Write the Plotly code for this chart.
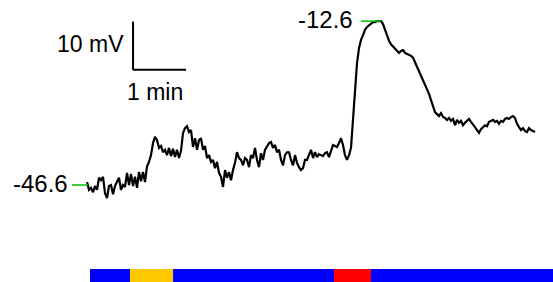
import numpy as np
import plotly.graph_objects as go

# Membrane potential trace (mV), sampled every dt_s seconds
dt_s = 2.264
vm_mV = [
    -46.0, -47.6, -47.2, -48.1, -46.8, -47.6, -45.1, -45.6, -44.9, -48.3,
    -49.3, -46.8, -46.6, -48.5, -46.8, -46.0, -45.1, -47.6, -46.6, -47.0,
    -44.1, -46.6, -44.3, -46.8, -44.9, -47.2, -43.9, -45.8, -43.9, -46.0,
    -42.7, -41.8, -40.4, -37.9, -36.6, -37.3, -38.9, -38.5, -39.8, -39.3,
    -40.4, -38.9, -40.6, -39.1, -40.8, -39.3, -41.0, -39.5, -35.8, -34.8,
    -34.4, -35.6, -35.2, -38.7, -36.9, -39.3, -37.3, -36.9, -39.3, -38.5,
    -41.0, -40.4, -41.8, -41.4, -43.1, -41.8, -44.1, -44.9, -47.0, -43.5,
    -45.1, -43.9, -45.6, -43.5, -42.0, -39.8, -41.0, -41.4, -42.5, -41.0,
    -41.4, -42.9, -40.4, -41.0, -38.9, -41.4, -42.9, -40.0, -41.4, -39.3,
    -38.7, -37.9, -37.7, -38.9, -38.3, -39.8, -39.3, -41.4, -42.5, -40.4,
    -39.8, -39.8, -41.4, -42.5, -40.4, -42.0, -42.9, -43.5, -43.1, -41.4,
    -41.4, -40.4, -39.3, -41.0, -39.8, -40.8, -40.2, -40.4, -40.6, -40.0,
    -39.8, -40.8, -39.3, -38.3, -38.5, -38.7, -37.9, -36.9, -38.3, -40.4,
    -41.4, -40.4, -38.9, -33.1, -25.9, -21.3, -18.2, -16.5, -15.5, -14.4,
    -13.8, -13.4, -13.0, -12.8, -12.8, -12.6, -12.6, -12.6, -13.2, -14.4,
    -15.5, -16.7, -17.4, -17.8, -18.2, -18.8, -19.2, -18.8, -18.6, -19.2,
    -19.4, -19.6, -19.8, -20.2, -21.1, -22.1, -22.9, -23.8, -24.8, -25.6,
    -26.7, -27.7, -29.0, -30.2, -31.5, -31.9, -32.3, -31.7, -32.5, -32.7,
    -33.1, -32.7, -33.3, -32.9, -34.2, -33.1, -33.7, -33.3, -34.2, -33.7,
    -33.3, -32.9, -33.5, -34.2, -34.6, -35.2, -35.8, -35.0, -34.6, -34.2,
    -34.4, -33.5, -33.3, -33.1, -33.5, -33.3, -33.9, -33.3, -33.5, -32.9,
    -32.7, -32.9, -32.5, -32.3, -32.7, -33.9, -34.6, -35.2, -34.8, -35.4,
    -35.6, -34.8, -35.2, -35.4, -35.6,
]
t_s = np.arange(len(vm_mV)) * dt_s

# Marked levels
level_labels = ["-46.6", "-12.6"]
level_values = [-46.6, -12.6]
level_tick_t = [(-17.0, 1.1), (310.0, 332.8)]
level_label_t = [-19.2, 303.4]

# Scale bar
scale_origin_t = 52.1
scale_origin_v = -22.7
scale_v_mV = 10
scale_t_s = 60
scale_labels = ["10 mV", "1 min"]

# Condition bar at bottom
bar_edges_s = [3.4, 48.7, 97.4, 279.6, 321.5, 560.0]
bar_colors = ["#0000ff", "#ffc800", "#0000ff", "#ff0000", "#0000ff"]
bar_v_top, bar_v_bottom = -64.0, -70.0

fig = go.Figure()
fig.add_trace(go.Scatter(x=t_s, y=vm_mV, mode="lines",
                         line=dict(color="black", width=2.2),
                         hoverinfo="skip", showlegend=False))

shapes = []
annotations = []
font_lvl = dict(family="Liberation Sans, Arial, sans-serif", size=24, color="black")
font_sc = dict(family="Liberation Sans, Arial, sans-serif", size=23, color="black")

for lab, v, (ta, tb), tl in zip(level_labels, level_values, level_tick_t, level_label_t):
    shapes.append(dict(type="line", xref="x", yref="y", x0=ta, x1=tb, y0=v, y1=v,
                       line=dict(color="#00c000", width=1.5)))
    annotations.append(dict(x=tl, y=v + 0.3, xref="x", yref="y", text=lab, showarrow=False,
                            xanchor="right", yanchor="middle", font=font_lvl))

# scale bar lines
shapes.append(dict(type="line", xref="x", yref="y", x0=scale_origin_t, x1=scale_origin_t,
                   y0=scale_origin_v, y1=scale_origin_v + scale_v_mV,
                   line=dict(color="black", width=2)))
shapes.append(dict(type="line", xref="x", yref="y", x0=scale_origin_t, x1=scale_origin_t + scale_t_s,
                   y0=scale_origin_v, y1=scale_origin_v,
                   line=dict(color="black", width=2)))
annotations.append(dict(x=scale_origin_t - 8, y=scale_origin_v + scale_v_mV / 2 + 0.4,
                        xref="x", yref="y", text=scale_labels[0], showarrow=False,
                        xanchor="right", yanchor="middle", font=font_sc))
annotations.append(dict(x=scale_origin_t + scale_t_s / 2 - 5, y=scale_origin_v - 4.6,
                        xref="x", yref="y", text=scale_labels[1], showarrow=False,
                        xanchor="center", yanchor="middle", font=font_sc))

for i, c in enumerate(bar_colors):
    shapes.append(dict(type="rect", xref="x", yref="y", x0=bar_edges_s[i], x1=bar_edges_s[i + 1],
                       y0=bar_v_bottom, y1=bar_v_top, fillcolor=c, line=dict(width=0),
                       layer="below"))

fig.update_layout(
    width=553, height=282,
    margin=dict(l=0, r=0, t=0, b=0),
    paper_bgcolor="white", plot_bgcolor="white",
    xaxis=dict(visible=False, range=[-98.5, 527.5], fixedrange=True),
    yaxis=dict(visible=False, range=[-66.72, -8.22], fixedrange=True),
    shapes=shapes, annotations=annotations,
    showlegend=False,
)

fig.write_html("out.html", config={"displayModeBar": False},
               post_script="document.body.style.margin='0';document.body.style.overflow='hidden';")
